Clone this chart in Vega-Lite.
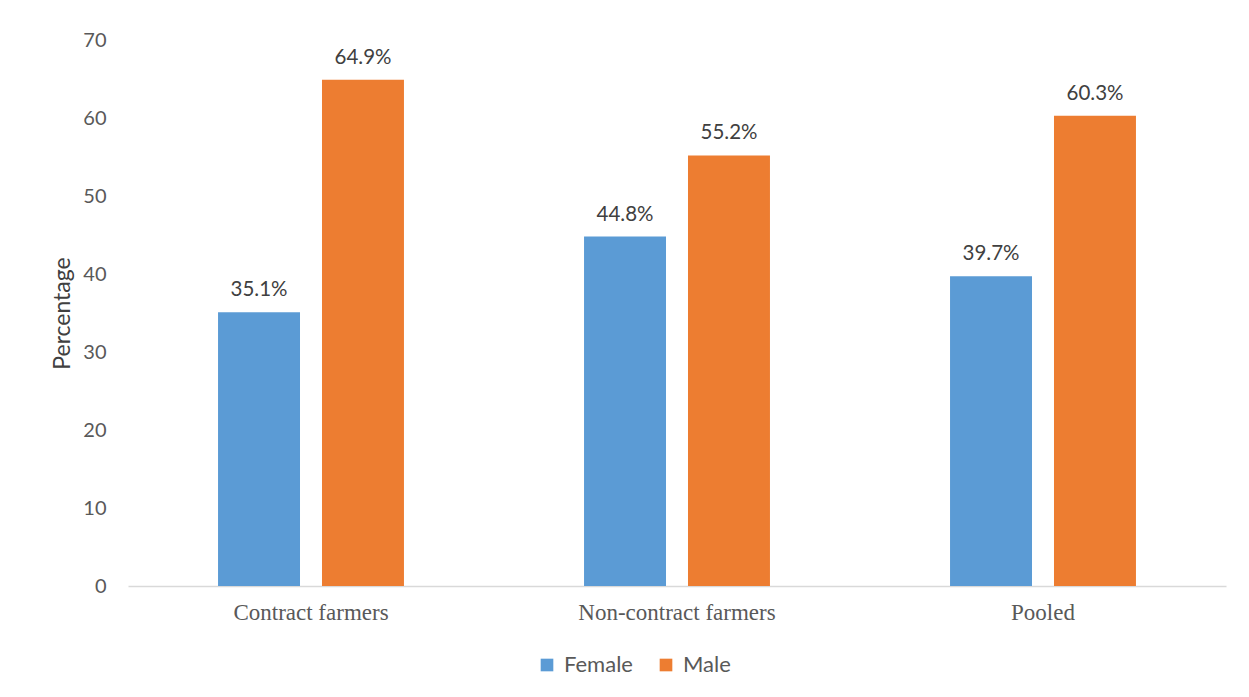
{
  "$schema": "https://vega.github.io/schema/vega-lite/v6.json",
  "autosize": {"type": "none"},
  "width": 1098,
  "height": 546,
  "padding": {"left": 128, "top": 40, "right": 23, "bottom": 111},
  "background": "white",
  "config": {
    "view": {"stroke": null},
    "font": "Lato"
  },
  "data": {
    "values": [
      {"group": "Contract farmers", "sex": "Female", "value": 35.1, "label": "35.1%"},
      {"group": "Contract farmers", "sex": "Male", "value": 64.9, "label": "64.9%"},
      {"group": "Non-contract farmers", "sex": "Female", "value": 44.8, "label": "44.8%"},
      {"group": "Non-contract farmers", "sex": "Male", "value": 55.2, "label": "55.2%"},
      {"group": "Pooled", "sex": "Female", "value": 39.7, "label": "39.7%"},
      {"group": "Pooled", "sex": "Male", "value": 60.3, "label": "60.3%"}
    ]
  },
  "encoding": {
    "x": {
      "field": "group",
      "type": "nominal",
      "sort": ["Contract farmers", "Non-contract farmers", "Pooled"],
      "scale": {"paddingInner": 0.492, "paddingOuter": 0.246},
      "axis": {
        "title": null,
        "labelAngle": 0,
        "labelFont": "Liberation Serif",
        "labelFontSize": 23,
        "labelColor": "#595959",
        "labelPadding": 15,
        "labelLimit": 0,
        "ticks": false,
        "domainColor": "#d9d9d9",
        "domainWidth": 1.5
      }
    },
    "xOffset": {
      "field": "sex",
      "type": "nominal",
      "scale": {"paddingInner": 0.2115, "paddingOuter": 0}
    },
    "y": {
      "field": "value",
      "type": "quantitative",
      "scale": {"domain": [0, 70]},
      "axis": {
        "title": "Percentage",
        "titleFont": "Lato",
        "titleFontSize": 23,
        "titleFontWeight": "normal",
        "titleColor": "#404040",
        "titlePadding": 8,
        "values": [0, 10, 20, 30, 40, 50, 60, 70],
        "labelFontSize": 20,
        "labelColor": "#595959",
        "labelPadding": 22,
        "grid": false,
        "domain": false,
        "ticks": false
      }
    }
  },
  "layer": [
    {
      "mark": {"type": "bar"},
      "encoding": {
        "color": {
          "field": "sex",
          "type": "nominal",
          "scale": {"domain": ["Female", "Male"], "range": ["#5B9BD5", "#ED7D31"]},
          "legend": {
            "title": null,
            "orient": "none",
            "legendX": 408,
            "legendY": 614,
            "direction": "horizontal",
            "symbolType": "square",
            "symbolSize": 160,
            "symbolStrokeWidth": 0,
            "labelFontSize": 22,
            "labelColor": "#595959",
            "columnPadding": 22,
            "labelOffset": 6
          }
        }
      }
    },
    {
      "mark": {"type": "text", "baseline": "bottom", "dy": -12, "fontSize": 20.5, "color": "#404040"},
      "encoding": {
        "text": {"field": "label", "type": "nominal"}
      }
    }
  ]
}
